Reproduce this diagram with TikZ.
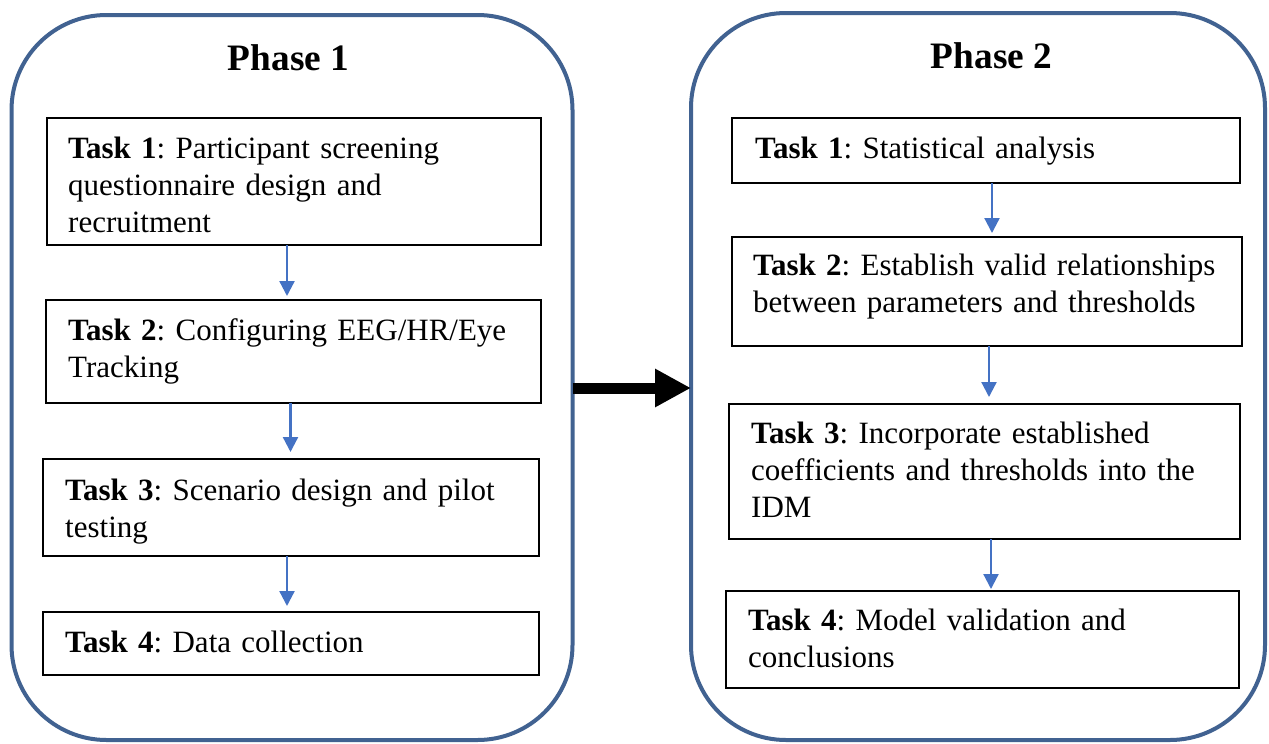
\documentclass[tikz,border=0pt]{standalone}
\usepackage{fontspec}
\setmainfont{Liberation Serif}
\usetikzlibrary{arrows.meta}
\definecolor{phaseblue}{RGB}{65,98,145}
\definecolor{arrowblue}{RGB}{68,114,196}
\tikzset{
  phasebox/.style={draw=phaseblue, line width=4pt, rounded corners=95pt, inner sep=0pt, outer sep=0pt, anchor=north west},
  taskbox/.style={draw=black, line width=2pt, inner sep=0pt, outer sep=0pt, anchor=north west},
  tasktext/.style={anchor=base west, inner sep=0pt, text width=520pt, align=left, font=\fontsize{31}{37}\selectfont\frenchspacing},
  phasetitle/.style={anchor=base, inner sep=0pt, font=\fontsize{37.3}{42}\selectfont\bfseries},
  flow/.style={draw=arrowblue, line width=2.3pt, -{Triangle[length=15pt,width=15pt]}},
  bigarrow/.style={draw=black, line width=11pt, -{Triangle[length=36pt,width=36pt]}}
}
\begin{document}
\begin{tikzpicture}[x=1pt,y=-1pt]
\useasboundingbox (0,0) rectangle (1269,744);
% phase containers
\node[phasebox, minimum width=561pt, minimum height=725pt] (P1) at (11.5,15) {};
\node[phasebox, minimum width=574pt, minimum height=727pt] (P2) at (691,13) {};
\node[phasetitle] (P1t) at (288.5,70) {Phase 1};
\node[phasetitle] (P2t) at (991.5,68) {Phase 2};
% phase 1 tasks
\node[taskbox, minimum width=494pt, minimum height=127pt] (L1) at (47,118) {};
\node[taskbox, minimum width=495pt, minimum height=103pt] (L2) at (46,300) {};
\node[taskbox, minimum width=496pt, minimum height=97pt] (L3) at (43,459) {};
\node[taskbox, minimum width=496pt, minimum height=63pt] (L4) at (43,612) {};
\node[tasktext] (L1t) at (68,158) {\textbf{Task 1}: Participant screening\\questionnaire design and\\recruitment};
\node[tasktext] (L2t) at (68,340) {\textbf{Task 2}: Configuring EEG/HR/Eye\\Tracking};
\node[tasktext] (L3t) at (65,500) {\textbf{Task 3}: Scenario design and pilot\\testing};
\node[tasktext] (L4t) at (65,652) {\textbf{Task 4}: Data collection};
% phase 2 tasks
\node[taskbox, minimum width=508pt, minimum height=65pt] (R1) at (732,118) {};
\node[taskbox, minimum width=510pt, minimum height=109pt] (R2) at (732,237) {};
\node[taskbox, minimum width=511pt, minimum height=135pt] (R3) at (729,404) {};
\node[taskbox, minimum width=513pt, minimum height=97pt] (R4) at (726,591) {};
\node[tasktext] (R1t) at (755,158) {\textbf{Task 1}: Statistical analysis};
\node[tasktext] (R2t) at (753,275) {\textbf{Task 2}: Establish valid relationships\\between parameters and thresholds};
\node[tasktext] (R3t) at (751,443) {\textbf{Task 3}: Incorporate established\\coefficients and thresholds into the\\IDM};
\node[tasktext] (R4t) at (748,630) {\textbf{Task 4}: Model validation and\\conclusions};
% flow arrows phase 1
\draw[flow, shorten >=4pt] ([xshift=-7pt]L1.south) -- ([xshift=-7pt]L1.south |- L2.north);
\draw[flow, shorten >=7pt] ([xshift=-3pt]L2.south) -- ([xshift=-3pt]L2.south |- L3.north);
\draw[flow, shorten >=6pt] ([xshift=-4pt]L3.south) -- ([xshift=-4pt]L3.south |- L4.north);
% flow arrows phase 2
\draw[flow, shorten >=4pt] ([xshift=6pt]R1.south) -- ([xshift=6pt]R1.south |- R2.north);
\draw[flow, shorten >=7pt] ([xshift=2pt]R2.south) -- ([xshift=2pt]R2.south |- R3.north);
\draw[flow, shorten >=2pt] ([xshift=6.5pt]R3.south) -- ([xshift=6.5pt]R3.south |- R4.north);
% phase transition
\draw[bigarrow] ([yshift=-10.5pt]P1.east) -- ([yshift=-10.5pt]P1.east -| P2.west);
\end{tikzpicture}
\end{document}
